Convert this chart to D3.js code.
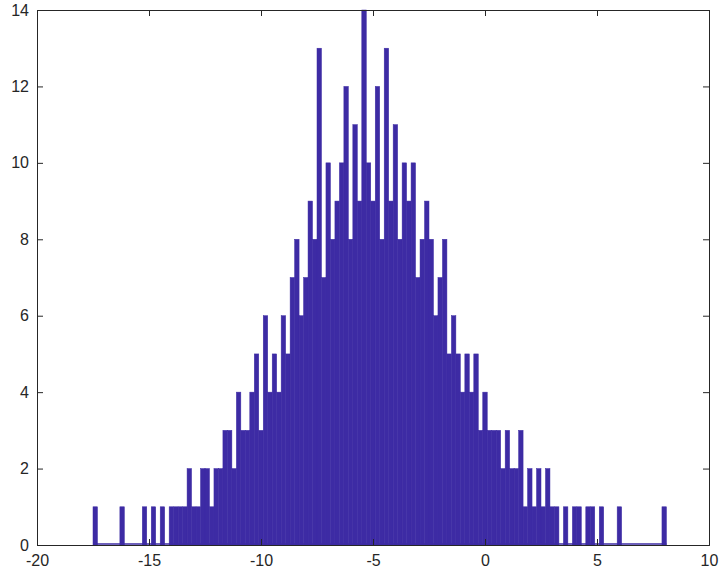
<!DOCTYPE html>
<html><head><meta charset="utf-8">
<script src="https://d3js.org/d3.v7.min.js"></script>
<style>body{margin:0;background:#fff}text{font-family:"Liberation Sans",Arial,sans-serif}</style>
</head><body><svg id="c" width="723" height="577"></svg>
<script>
const binStart = -17.5, binWidth = 0.2;
const counts = [
1,0,0,0,0, 0,1,0,0,0, 0,1,0,1,0, 1,0,1,1,1, 1,2,1,1,2,
2,1,2,2,3, 3,2,4,3,3, 4,5,3,6,4, 5,4,6,5,7, 8,6,7,9,8,
13,7,10,8,9, 10,12,8,11,9, 14,10,9,12,8, 13,9,11,8,10, 9,10,7,8,9,
8,6,7,8,5, 6,5,4,5,4, 5,3,4,3,3, 3,2,3,2,2, 3,1,2,1,2,
1,2,1,1,0, 1,0,1,1,0, 1,1,0,1,0, 0,0,1,0,0, 0,0,0,0,0, 0,0,1];
const xTicks = [-20,-15,-10,-5,0,5,10];
const yTicks = [0,2,4,6,8,10,12,14];

const m={l:37,r:709,t:10,b:545};
const svg=d3.select("#c");
const x=d3.scaleLinear().domain([-20,10]).range([m.l,m.r]);
const y=d3.scaleLinear().domain([0,14]).range([m.b,m.t]);
const col="#3d2ba4";
svg.append("g").selectAll("rect").data(counts).join("rect")
 .attr("x",(d,i)=>x(binStart+i*binWidth))
 .attr("width",(d,i)=>x(binStart+(i+1)*binWidth)-x(binStart+i*binWidth))
 .attr("y",d=>y(d)).attr("height",d=>y(0)-y(d))
 .attr("fill",col).attr("stroke",col).attr("stroke-width",0.5);
svg.append("line").attr("x1",x(binStart)).attr("x2",x(binStart+counts.length*binWidth))
 .attr("y1",y(0)-1).attr("y2",y(0)-1).attr("stroke",col).attr("stroke-width",1.5);
const tc="#262626";
svg.append("g").attr("transform",`translate(0,${m.b})`).call(d3.axisBottom(x).tickValues(xTicks).tickSize(-6).tickPadding(10));
svg.append("g").attr("transform",`translate(${m.l},0)`).call(d3.axisLeft(y).tickValues(yTicks).tickSize(-6).tickPadding(8));
svg.append("g").attr("transform",`translate(0,${m.t})`).call(d3.axisTop(x).tickValues(xTicks).tickSize(-6).tickFormat(""));
svg.append("g").attr("transform",`translate(${m.r},0)`).call(d3.axisRight(y).tickValues(yTicks).tickSize(-6).tickFormat(""));
svg.selectAll(".domain").attr("stroke",tc);
svg.selectAll(".tick line").attr("stroke",tc);
svg.selectAll(".tick text").attr("fill",tc).style("font-size","16px");
svg.selectAll(".tick text").text(function(){return this.textContent.replace("−","-");});
</script></body></html>
